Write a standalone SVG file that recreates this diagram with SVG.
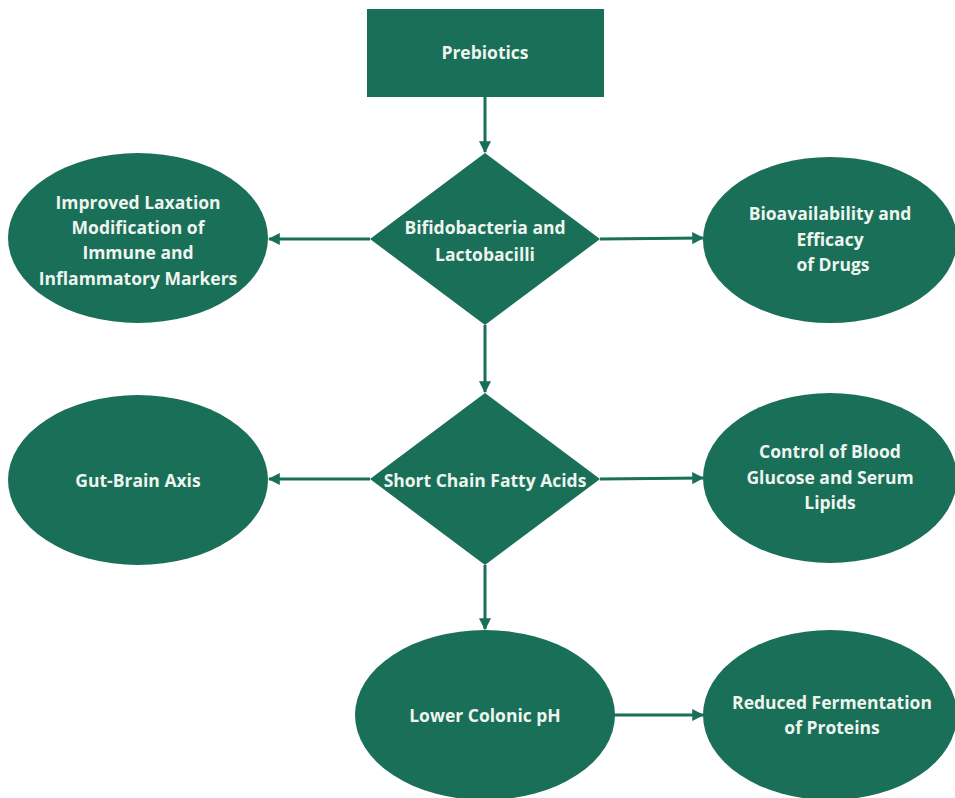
<svg xmlns="http://www.w3.org/2000/svg" width="955" height="798" viewBox="0 0 955 798">
<style>
.shape{fill:#196f58;}
.lbl{fill:#eef5ef;font-family:"Open Sans","Liberation Sans",sans-serif;font-weight:bold;font-size:17.5px;text-anchor:middle;}
.conn{stroke:#196f58;stroke-width:3;fill:none;marker-end:url(#ah);}
</style>
<defs>
<marker id="ah" viewBox="0 0 10 10" refX="9" refY="5" markerWidth="4" markerHeight="4" orient="auto" markerUnits="strokeWidth">
<path d="M0,0 L10,5 L0,10 Z" fill="#196f58"/>
</marker>
</defs>
<rect width="955" height="798" fill="#ffffff"/>
<g id="connectors">
<line class="conn" x1="485" y1="97" x2="485" y2="152"/>
<line class="conn" x1="370" y1="239" x2="269" y2="239"/>
<line class="conn" x1="600" y1="239" x2="703" y2="238"/>
<line class="conn" x1="485" y1="325" x2="485" y2="392"/>
<line class="conn" x1="370" y1="479" x2="269" y2="479"/>
<line class="conn" x1="600" y1="479" x2="703" y2="478"/>
<line class="conn" x1="485" y1="565" x2="485" y2="629"/>
<line class="conn" x1="615" y1="715" x2="703" y2="715"/>
</g>
<g id="prebiotics">
<rect class="shape" x="367" y="9" width="237" height="88"/>
<text class="lbl" x="485" y="59">Prebiotics</text>
</g>
<g id="bifido">
<polygon class="shape" points="485,153 600,239 485,325 370,239"/>
<text class="lbl" x="485" y="234">Bifidobacteria and</text>
<text class="lbl" x="485" y="261">Lactobacilli</text>
</g>
<g id="laxation">
<ellipse class="shape" cx="138" cy="238" rx="130" ry="85"/>
<text class="lbl" x="138" y="209">Improved Laxation</text>
<text class="lbl" x="138" y="234">Modification of</text>
<text class="lbl" x="138" y="259">Immune and</text>
<text class="lbl" x="138" y="285">Inflammatory Markers</text>
</g>
<g id="bioavailability">
<ellipse class="shape" cx="830" cy="240" rx="127" ry="83"/>
<text class="lbl" x="830" y="220">Bioavailability and</text>
<text class="lbl" x="830" y="246">Efficacy</text>
<text class="lbl" x="833" y="271">of Drugs</text>
</g>
<g id="scfa">
<polygon class="shape" points="485,393 600,479 485,565 370,479"/>
<text class="lbl" x="485" y="487">Short Chain Fatty Acids</text>
</g>
<g id="gutbrain">
<ellipse class="shape" cx="138" cy="480" rx="130" ry="85"/>
<text class="lbl" x="138" y="487">Gut-Brain Axis</text>
</g>
<g id="glucose">
<ellipse class="shape" cx="830" cy="478" rx="127" ry="85"/>
<text class="lbl" x="830" y="458">Control of Blood</text>
<text class="lbl" x="830" y="484">Glucose and Serum</text>
<text class="lbl" x="830" y="509">Lipids</text>
</g>
<g id="colonic">
<ellipse class="shape" cx="485" cy="715" rx="130" ry="85"/>
<text class="lbl" x="485" y="722">Lower Colonic pH</text>
</g>
<g id="fermentation">
<ellipse class="shape" cx="830" cy="715" rx="127" ry="85"/>
<text class="lbl" x="832" y="709">Reduced Fermentation</text>
<text class="lbl" x="832" y="734">of Proteins</text>
</g>
</svg>
